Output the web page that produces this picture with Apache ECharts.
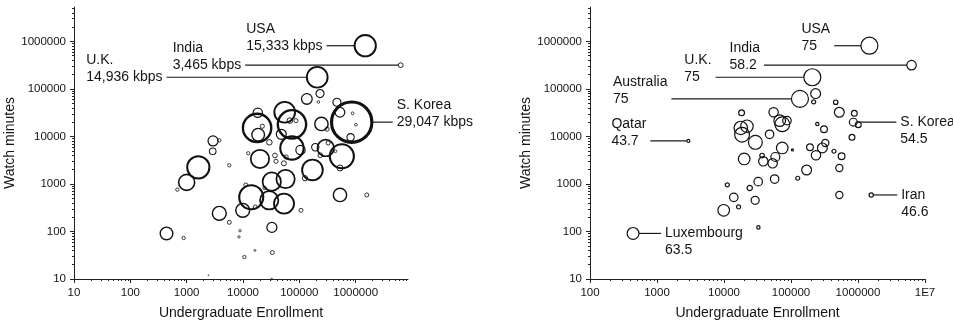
<!DOCTYPE html>
<html>
<head>
<meta charset="utf-8">
<script src="https://cdn.jsdelivr.net/npm/echarts@6/dist/echarts.min.js"></script>
<style>
  html, body { margin: 0; padding: 0; background: #fff; }
  #chart { width: 953px; height: 325px; }
</style>
</head>
<body>
<div id="chart"></div>
<script>
// One row per country: enrollment (x), watch minutes (y),
// bandwidth in kbps (left bubble size) and score (right bubble size).
const countries = [
  'USA', 'India', 'U.K.', 'Australia', '', '', 'Qatar', 'Luxembourg', 'S. Korea', '',
  '', '', '', '', '', '', '', '', '', '',
  '', '', '', '', '', '', '', '', '', '',
  '', '', '', '', '', '', '', '', '', '',
  '', '', '', '', '', '', '', '', '', '',
  '', '', 'Iran', '', '', '', '', '', '', '',
  '', '', '', '', '', '', '', '', '', '',
  '', ''
];
const enrollment = [
  1480000, 6300000, 208000, 136000, 233000, 218000, 2940, 439, 851000, 1010000,
  881000, 813000, 465000, 526000, 247000, 311000, 55000, 74100, 67800, 87100,
  17800, 18600, 22000, 29400, 18300, 47900, 74000, 105000, 192000, 294000,
  325000, 236000, 438000, 569000, 527000, 171000, 126000, 57000, 32400, 20000,
  37000, 38600, 53200, 58400, 11200, 24200, 14000, 29200, 16500, 9900,
  32600, 527000, 1575000, 12400, 5710, 3800, 2900, 1610, 1000, 682,
  53500, 107000, 3800, 5710, 8850, 8490, 885, 16300, 10600, 33200,
  2430, 32300
];
const watchMinutes = [
  812000, 316000, 176000, 61700, 79800, 53200, 8040, 91, 20000, 17700,
  30700, 9600, 52500, 32300, 18300, 14200, 32300, 18000, 21500, 21500,
  15100, 10900, 16400, 7530, 31500, 11100, 5730, 5200, 5920, 5730,
  7290, 4020, 4880, 3820, 2170, 1970, 1320, 1270, 1120, 3360,
  3980, 3000, 2720, 3700, 953, 824, 524, 453, 328, 279,
  122, 587, 587, 4430, 2470, 8300, 4880, 2240, 1080, 760,
  386, 279, 241, 156, 104, 77, 73, 40, 29, 36,
  12, 10
];
const kbps = [
  15333, 3465, 14936, 7700, 5800, 1900, 7200, 9100, 29047, 2000,
  2000, 5300, 5800, 7000, 9600, 3000, 14900, 20400, 4000, 3000,
  20400, 9100, 3000, 4000, 6700, 7200, 16800, 6700, 5300, 12000,
  3000, 3400, 2000, 17300, 4300, 14900, 3800, 13200, 13200, 13200,
  3400, 3000, 3600, 3000, 2900, 2500, 17300, 13200, 2900, 10000,
  7200, 9600, 2900, 2400, 2400, 2400, 4800, 16000, 11500, 2400,
  14400, 2900, 10000, 2900, 1700, 1700, 2400, 1400, 2400, 2900,
  700, 1200
];
const score = [
  75, 58.2, 75, 75, 59, 46, 43.7, 63.5, 54.5, 50,
  50, 50, 47, 59, 44.5, 52, 58, 70, 63, 56,
  67, 70, 65, 68, 50, 56, 63, 41.5, 52, 59,
  53, 58, 46, 52, 53, 59, 46, 56, 56, 63,
  47, 58, 58, 57, 46, 49, 56, 55, 46, 63,
  44.5, 53, 46.6, null, null, null, null, null, null, null,
  null, null, null, null, null, null, null, null, null, null,
  null, null
];

// Axis tick labels
const leftXTicks = [10, 100, 1000, 10000, 100000, 1000000];
const rightXTicks = [100, 1000, 10000, 100000, 1000000, 10000000];
const yTicks = [10, 100, 1000, 10000, 100000, 1000000];

// Callout placement: horizontal offset of the text from the bubble centre,
// and which text row the leader line meets.
const callouts = {
  bandwidth: {
    'USA': { dx: -119, row: 2 },
    'India': { dx: -228, row: 2 },
    'U.K.': { dx: -231, row: 2 },
    'S. Korea': { dx: 45, row: 2 }
  },
  score: {
    'USA': { dx: -68, row: 2 },
    'India': { dx: -182, row: 2 },
    'U.K.': { dx: -128, row: 2 },
    'Australia': { dx: -187, row: 2 },
    'Qatar': { dx: -77, row: 2 },
    'S. Korea': { dx: 47, row: 1 },
    'Iran': { dx: 30, row: 1 },
    'Luxembourg': { dx: 32, row: 1 }
  }
};

const FONT = '"Liberation Sans", Arial, Helvetica, sans-serif';
const INK = '#141414';
const PAD = 4;

// Log-spaced minor ticks (2..9 within each decade)
function minorTicks(lo, hi) {
  const out = [];
  for (let d = lo; d < hi; d *= 10) {
    for (let k = 2; k <= 9; k++) out.push(k * d);
  }
  return out;
}

function fmtTick(v) {
  const r = Math.round(v);
  return r >= 10000000 ? '1E7' : String(r);
}

function makeAxes(grid, min, max, labels, dim, name) {
  const isX = dim === 'x';
  const major = {
    type: 'log', gridIndex: grid, min: min, max: max, logBase: 10,
    position: isX ? 'bottom' : 'left',
    name: name, nameLocation: 'middle', nameGap: isX ? 27 : 55,
    nameTextStyle: { fontFamily: FONT, fontSize: 14, color: INK },
    axisLine: { show: true, lineStyle: { color: '#222', width: 1 } },
    axisTick: { show: true, length: 4, customValues: labels, lineStyle: { color: '#222', width: 1 } },
    axisLabel: { show: true, customValues: labels, formatter: fmtTick, margin: 8,
      fontFamily: FONT, fontSize: 11.5, color: INK },
    splitLine: { show: false }, minorTick: { show: false }
  };
  const minor = {
    type: 'log', gridIndex: grid, min: min, max: max, logBase: 10,
    position: isX ? 'bottom' : 'left',
    axisLine: { show: false },
    axisTick: { show: true, length: 2, customValues: minorTicks(1, 1e8).filter(v => v > min && v < max),
      lineStyle: { color: '#222', width: 1 } },
    axisLabel: { show: false }, splitLine: { show: false }
  };
  return [major, minor];
}

const yMin = 10, yMax = 5.3e6;

function buildSeries(sizeValues, sizeFn, widthFn, key, labelFn, xAxisIndex, yAxisIndex) {
  const data = [];
  const notes = [];
  for (let i = 0; i < countries.length; i++) {
    const s = sizeValues[i];
    if (s == null) continue;
    const size = sizeFn(s);
    const item = {
      name: countries[i],
      value: [enrollment[i], watchMinutes[i], s],
      symbolSize: size,
      itemStyle: { borderWidth: widthFn(size) }
    };
    const c = callouts[key][countries[i]];
    if (c) {
      const body = countries[i] + '\n' + labelFn(s);
      item.label = { show: true, formatter: c.row === 2 ? body + '\n ' : ' \n' + body };
    }
    data.push(item);
    notes.push(c || null);
  }
  return {
    type: 'scatter',
    xAxisIndex: xAxisIndex, yAxisIndex: yAxisIndex,
    symbol: 'circle',
    data: data,
    itemStyle: { color: 'rgba(255,255,255,0)', borderColor: '#111', opacity: 1 },
    label: {
      show: false, fontFamily: FONT, fontSize: 14, color: INK, lineHeight: 17,
      padding: [0, PAD, 0, PAD], backgroundColor: 'rgba(255,255,255,0)'
    },
    labelLine: { show: true, length2: 1, smooth: false, lineStyle: { color: '#1a1a1a', width: 1.2 } },
    labelLayout: function (p) {
      const c = notes[p.dataIndex];
      if (!c) return {};
      const cx = p.rect.x + p.rect.width / 2;
      const cy = p.rect.y + p.rect.height / 2;
      return { x: cx + c.dx - PAD, y: cy, align: 'left', verticalAlign: 'middle' };
    },
    emphasis: { disabled: true },
    silent: true,
    clip: false,
    z: 3
  };
}

const leftX = makeAxes(0, 10, 8.5e6, leftXTicks, 'x', 'Undergraduate Enrollment');
const rightX = makeAxes(1, 100, 1e7, rightXTicks, 'x', 'Undergraduate Enrollment');
const leftY = makeAxes(0, yMin, yMax, yTicks, 'y', 'Watch minutes');
const rightY = makeAxes(1, yMin, yMax, yTicks, 'y', 'Watch minutes');

const chart = echarts.init(document.getElementById('chart'), null, { renderer: 'canvas' });
chart.setOption({
  animation: false,
  backgroundColor: '#fff',
  textStyle: { fontFamily: FONT },
  grid: [
    { left: 74, top: 7, width: 334, height: 272 },
    { left: 590, top: 7, width: 335, height: 272 }
  ],
  xAxis: [leftX[0], leftX[1], rightX[0], rightX[1]],
  yAxis: [leftY[0], leftY[1], rightY[0], rightY[1]],
  series: [
    buildSeries(kbps, v => v / 720, s => 0.6 + s / 16, 'bandwidth',
      v => v.toLocaleString('en-US') + ' kbps', 0, 0),
    buildSeries(score, v => (v - 37) * 0.447, () => 1.2, 'score',
      v => String(v), 2, 2)
  ]
});
</script>
</body>
</html>
